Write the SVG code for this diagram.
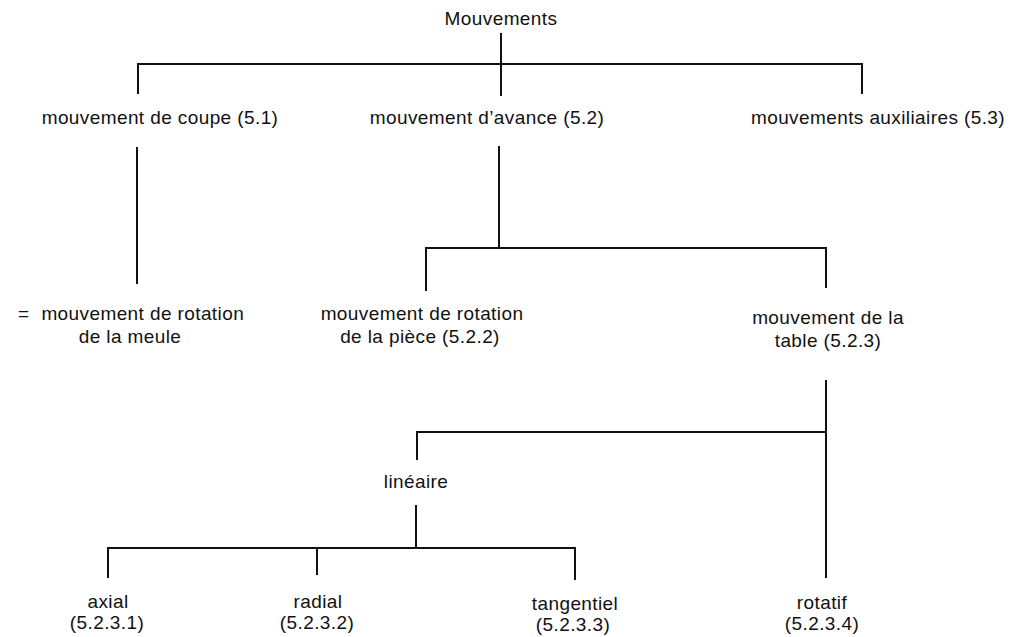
<svg xmlns="http://www.w3.org/2000/svg" width="1015" height="637" viewBox="0 0 1015 637">
<style>
text{font-family:"Liberation Sans",Arial,sans-serif;font-size:19px;letter-spacing:0.4px;fill:#111;text-anchor:middle}
.c line,.c path{stroke:#111;stroke-width:2;fill:none}
</style>
<rect width="1015" height="637" fill="#fff"/>
<g class="c" id="connectors">
<line x1="501" y1="33" x2="501" y2="96"/>
<path d="M138 94V64H862V94"/>
<line x1="137" y1="147" x2="137" y2="284"/>
<line x1="499" y1="146" x2="499" y2="248"/>
<path d="M426 291V248H826V288"/>
<line x1="826" y1="380" x2="826" y2="432"/>
<path d="M417 460V432H826V578"/>
<line x1="416" y1="505" x2="416" y2="548"/>
<path d="M108 578V548H575V580"/>
<line x1="317" y1="548" x2="317" y2="575"/>
</g>
<g id="n-root"><text x="501" y="25">Mouvements</text></g>
<g id="n-coupe"><text x="160" y="124">mouvement de coupe (5.1)</text></g>
<g id="n-avance"><text x="487" y="124">mouvement d’avance (5.2)</text></g>
<g id="n-aux"><text x="878" y="124">mouvements auxiliaires (5.3)</text></g>
<g id="n-meule"><text x="131" y="320">=<tspan dx="12">mouvement de rotation</tspan></text><text x="130" y="343">de la meule</text></g>
<g id="n-piece"><text x="422" y="320">mouvement de rotation</text><text x="420" y="343">de la pièce (5.2.2)</text></g>
<g id="n-table"><text x="828" y="324">mouvement de la</text><text x="828" y="347">table (5.2.3)</text></g>
<g id="n-lineaire"><text x="416" y="488">linéaire</text></g>
<g id="n-axial"><text x="108" y="608">axial</text><text x="107" y="629">(5.2.3.1)</text></g>
<g id="n-radial"><text x="318" y="608">radial</text><text x="317" y="629">(5.2.3.2)</text></g>
<g id="n-tang"><text x="575" y="610">tangentiel</text><text x="573" y="631">(5.2.3.3)</text></g>
<g id="n-rotatif"><text x="822" y="609">rotatif</text><text x="822" y="630">(5.2.3.4)</text></g>
</svg>
